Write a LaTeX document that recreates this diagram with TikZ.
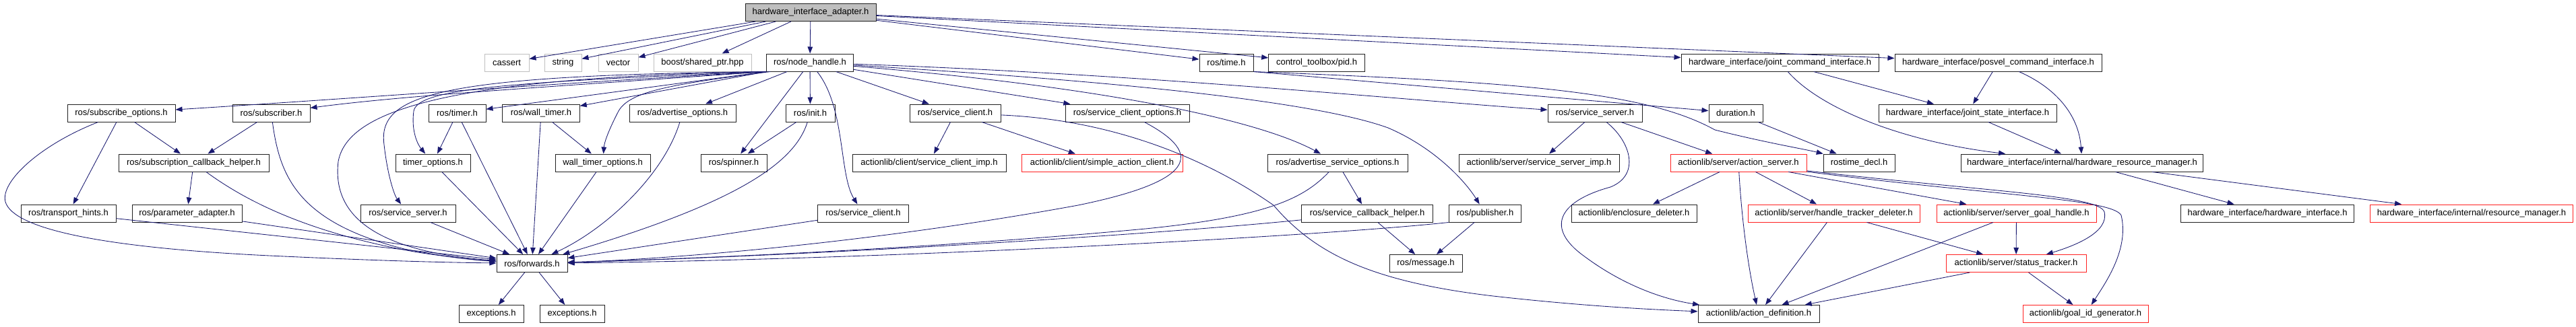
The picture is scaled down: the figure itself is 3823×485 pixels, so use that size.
\documentclass[tikz,border=0pt]{standalone}
\usepackage{fontspec}
\setmainfont{Liberation Sans}
\usetikzlibrary{arrows.meta}
\definecolor{edgeblue}{HTML}{191970}
\definecolor{lgray}{HTML}{BFBFBF}
\definecolor{boxred}{HTML}{FF2020}
\definecolor{boxblack}{HTML}{202020}
\begin{document}
\begin{tikzpicture}[x=1pt,y=-1pt,
  nb/.style={draw=boxblack, line width=1pt, rectangle, inner sep=0pt, minimum height=26pt, font=\fontsize{13}{15}\selectfont, text=black},
  rb/.style={nb, draw=boxred},
  gb/.style={nb, draw=lgray},
  e/.style={draw=edgeblue, line width=0.85pt, -{Triangle[length=10pt,width=7.5pt]}}]
\fill[white] (0,0) rectangle (3823,485);
\useasboundingbox (0,0) rectangle (3823,485);
% row 0
\node[nb,fill=lgray,minimum width=194pt] (hia) at (1203,18.5) {hardware\_interface\_adapter.h};
% row 1
\node[gb,minimum width=66pt] (cassert) at (752,93) {cassert};
\node[gb,minimum width=55pt] (string) at (835.5,93) {string};
\node[gb,minimum width=59pt] (vector) at (917.5,93) {vector};
\node[gb,minimum width=145pt] (boost) at (1042.5,93) {boost/shared\_ptr.hpp};
\node[nb,minimum width=128.5pt] (nh) at (1202,93) {ros/node\_handle.h};
\node[nb,minimum width=80pt] (rtime) at (1820,93) {ros/time.h};
\node[nb,minimum width=142.5pt] (pid) at (1954,93) {control\_toolbox/pid.h};
\node[nb,minimum width=293pt] (jci) at (2641.5,93) {hardware\_interface/joint\_command\_interface.h};
\node[nb,minimum width=307pt] (pci) at (2965.5,93) {hardware\_interface/posvel\_command\_interface.h};
% row 2
\node[nb,minimum width=160pt] (subopt) at (180,168) {ros/subscribe\_options.h};
\node[nb,minimum width=115pt] (subr) at (402.5,168) {ros/subscriber.h};
\node[nb,minimum width=85pt] (rtimer) at (678.5,168) {ros/timer.h};
\node[nb,minimum width=114.5pt] (wtimer) at (803,168) {ros/wall\_timer.h};
\node[nb,minimum width=158pt] (advopt) at (1013,168) {ros/advertise\_options.h};
\node[nb,minimum width=73pt] (init) at (1202.5,168) {ros/init.h};
\node[nb,minimum width=135pt] (sclient) at (1417.5,168) {ros/service\_client.h};
\node[nb,minimum width=184pt] (scopt) at (1673,168) {ros/service\_client\_options.h};
\node[nb,minimum width=140pt] (sserver) at (2367,168) {ros/service\_server.h};
\node[nb,minimum width=80pt] (duration) at (2576,168) {duration.h};
\node[nb,minimum width=264pt] (jsi) at (2920,168) {hardware\_interface/joint\_state\_interface.h};
% row 3
\node[nb,minimum width=223pt] (scbh) at (287.5,242) {ros/subscription\_callback\_helper.h};
\node[nb,minimum width=111pt] (topt) at (642.5,242) {timer\_options.h};
\node[nb,minimum width=141pt] (wtopt) at (894.5,242) {wall\_timer\_options.h};
\node[nb,minimum width=98pt] (spinner) at (1089,242) {ros/spinner.h};
\node[nb,minimum width=228pt] (scimp) at (1379,242) {actionlib/client/service\_client\_imp.h};
\node[rb,minimum width=239pt] (sac) at (1635.5,242) {actionlib/client/simple\_action\_client.h};
\node[nb,minimum width=208pt] (asopt) at (1985,242) {ros/advertise\_service\_options.h};
\node[nb,minimum width=238pt] (ssimp) at (2284,242) {actionlib/server/service\_server\_imp.h};
\node[rb,minimum width=202pt] (aserver) at (2580,242) {actionlib/server/action\_server.h};
\node[nb,minimum width=106pt] (rdecl) at (2759,242) {rostime\_decl.h};
\node[nb,minimum width=359.5pt] (hrm) at (3090,242) {hardware\_interface/internal/hardware\_resource\_manager.h};
% row 4
\node[nb,minimum width=141pt] (thints) at (101.5,317) {ros/transport\_hints.h};
\node[nb,minimum width=163pt] (padapt) at (277.5,317) {ros/parameter\_adapter.h};
\node[nb,minimum width=141pt] (ssleft) at (605.5,317) {ros/service\_server.h};
\node[nb,minimum width=135pt] (sclient2) at (1281,317) {ros/service\_client.h};
\node[nb,minimum width=195pt] (schelper) at (2029,317) {ros/service\_callback\_helper.h};
\node[nb,minimum width=107.6pt] (pub) at (2204,317) {ros/publisher.h};
\node[nb,minimum width=186pt] (encdel) at (2425,317) {actionlib/enclosure\_deleter.h};
\node[rb,minimum width=255pt] (htd) at (2721.5,317) {actionlib/server/handle\_tracker\_deleter.h};
\node[rb,minimum width=237pt] (sgh) at (2992.5,317) {actionlib/server/server\_goal\_handle.h};
\node[nb,minimum width=257.4pt] (hwi) at (3365,317) {hardware\_interface/hardware\_interface.h};
\node[rb,minimum width=300.5pt] (resmgr) at (3668,317) {hardware\_interface/internal/resource\_manager.h};
% row 5
\node[nb,minimum width=105pt] (fwd) at (789.5,391.5) {ros/forwards.h};
\node[nb,minimum width=108pt] (msg) at (2116,391.5) {ros/message.h};
\node[rb,minimum width=208pt] (strack) at (2992,391.5) {actionlib/server/status\_tracker.h};
% row 6
\node[nb,minimum width=96pt] (exc1) at (729,466.5) {exceptions.h};
\node[nb,minimum width=96pt] (exc2) at (849,466.5) {exceptions.h};
\node[nb,minimum width=180pt] (adef) at (2610,466.5) {actionlib/action\_definition.h};
\node[rb,minimum width=186pt] (gidgen) at (3095,466.5) {actionlib/goal\_id\_generator.h};

% edges from hardware_interface_adapter.h
\draw[e] (hia) -- (cassert);
\draw[e] (hia) -- (string);
\draw[e] (hia) -- (vector);
\draw[e] (hia) -- (boost);
\draw[e] (hia) -- (nh);
\draw[e] (hia) -- (rtime);
\draw[e] (hia) -- (pid);
\draw[e] (hia) -- (jci);
\draw[e] (hia) -- (pci);

% edges from ros/node_handle.h (left)
\draw[e] (nh.south west) .. controls (800,125) and (500,148) .. (subopt);
\draw[e] (nh.south west) .. controls (800,130) and (600,142) .. (subr);
\draw[e] (nh.south west) .. controls (750,122) and (620,132) .. (614,165) .. controls (610,195) and (620,215) .. (topt);
\draw[e] (nh.south west) .. controls (650,112) and (560,140) .. (570,215) .. controls (575,260) and (585,290) .. (ssleft);
\draw[e] (nh.south west) .. controls (640,115) and (515,170) .. (502,240) .. controls (492,325) and (565,374) .. (fwd);
\draw[e] (nh.south west) -- (rtimer);
\draw[e] (nh.south west) -- (wtimer);
\draw[e] ([xshift=6pt]nh.south west) .. controls (1000,125) and (935,135) .. (918,165) .. controls (905,190) and (897,210) .. (wtopt);
\draw[e] (nh) -- (advopt);
\draw[e] (nh) -- (spinner);
\draw[e] (nh) -- (init);
\draw[e] (nh) .. controls (1255,160) and (1245,260) .. (sclient2);
% edges from ros/node_handle.h (right)
\draw[e] (nh) -- (sclient);
\draw[e] (nh) -- (scopt);
\draw[e] (nh) .. controls (1700,110) and (2100,150) .. (sserver);
\draw[e] (nh) .. controls (1650,120) and (1950,150) .. (2060,190) .. controls (2130,220) and (2175,270) .. (pub);
\draw[e] (nh) .. controls (1650,130) and (1870,180) .. (asopt);

% subscribe side
\draw[e] (subopt) -- (scbh);
\draw[e] (subopt) -- (thints);
\draw[e] (subopt) .. controls (60,215) and (0,270) .. (8,300) .. controls (20,340) and (150,368) .. (400,380) .. controls (550,387) and (650,390) .. (fwd);
\draw[e] (subr) -- (scbh);
\draw[e] (subr) .. controls (415,260) and (440,330) .. (600,370) .. controls (650,380) and (700,386) .. (fwd);
\draw[e] (scbh) -- (padapt);
\draw[e] (scbh) .. controls (360,295) and (450,345) .. (620,375) .. controls (680,384) and (710,387) .. (fwd);
\draw[e] (thints) -- (fwd);
\draw[e] (padapt) -- (fwd);
\draw[e] (ssleft) -- (fwd);
\draw[e] (rtimer) -- (topt);
\draw[e] (rtimer) -- (fwd);
\draw[e] (topt) -- (fwd);
\draw[e] (wtimer) -- (wtopt);
\draw[e] (wtimer) -- (fwd);
\draw[e] (wtopt) -- (fwd);
\draw[e] (advopt) .. controls (985,260) and (900,340) .. (fwd);
\draw[e] (init) -- (spinner);
\draw[e] (init) .. controls (1180,240) and (1100,300) .. (fwd);
\draw[e] (sclient2) -- (fwd);
\draw[e] (fwd) -- (exc1);
\draw[e] (fwd) -- (exc2);

% service client / options
\draw[e] (sclient) -- (scimp);
\draw[e] (sclient) -- (sac);
\draw[e] (sclient) .. controls (1650,178) and (1790,235) .. (1890,305) .. controls (1950,375) and (2030,418) .. (2216,440) .. controls (2350,455) and (2450,460) .. (adef);
\draw[e] (scopt) .. controls (1790,230) and (1770,270) .. (1600,305) .. controls (1300,360) and (1000,385) .. (fwd);
\draw[e] (asopt) .. controls (1935,295) and (1880,322) .. (1700,340) .. controls (1400,368) and (1050,384) .. (fwd);
\draw[e] (asopt) -- (schelper);
\draw[e] (schelper) .. controls (1700,350) and (1200,380) .. (fwd);
\draw[e] (schelper) -- (msg);
\draw[e] (pub.south west) .. controls (1950,352) and (1300,386) .. (fwd);
\draw[e] (pub) -- (msg);

% service server / action server
\draw[e] (sserver) -- (ssimp);
\draw[e] (sserver) .. controls (2420,210) and (2435,260) .. (2390,278) .. controls (2310,300) and (2295,340) .. (2350,380) .. controls (2410,425) and (2470,445) .. (adef);
\draw[e] (sserver) -- (aserver);
\draw[e] (aserver) -- (encdel);
\draw[e] (aserver) .. controls (2585,330) and (2595,400) .. (adef);
\draw[e] (aserver) -- (htd);
\draw[e] (aserver) -- (sgh);
\draw[e] (aserver) .. controls (2950,285) and (3115,290) .. (3123,315) .. controls (3130,345) and (3080,365) .. (strack);
\draw[e] (aserver) .. controls (2950,290) and (3135,295) .. (3148,320) .. controls (3160,370) and (3125,420) .. (gidgen);
\draw[e] (htd) -- (adef);
\draw[e] (htd) -- (strack);
\draw[e] (sgh) -- (adef);
\draw[e] (sgh) -- (strack);
\draw[e] (strack) -- (adef);
\draw[e] (strack) -- (gidgen);

% time
\draw[e] (rtime.south east) -- (duration);
\draw[e] (rtime.south east) .. controls (2250,122) and (2440,135) .. (2545,193) .. controls (2620,212) and (2680,222) .. (rdecl);
\draw[e] (duration) -- (rdecl);

% hardware interface
\draw[e] (jci) -- (jsi);
\draw[e] (jci) .. controls (2700,160) and (2820,210) .. (hrm);
\draw[e] (pci) -- (jsi);
\draw[e] (pci) .. controls (3050,130) and (3085,170) .. (hrm);
\draw[e] (jsi) -- (hrm);
\draw[e] (hrm) -- (hwi);
\draw[e] (hrm) -- (resmgr);
\end{tikzpicture}
\end{document}
